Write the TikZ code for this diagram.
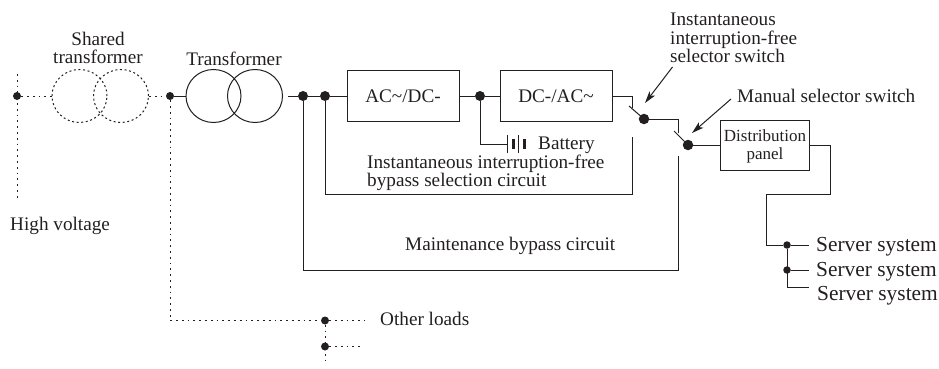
\documentclass[tikz,border=0pt]{standalone}
\usepackage{fontspec}
\setmainfont{Liberation Serif}
\definecolor{ink}{HTML}{231F20}
\tikzset{
  dotn/.style={circle,fill=ink,inner sep=0pt,minimum size=#1},
  dotn/.default=8,
  wire/.style={draw=ink,line width=1pt},
  dots/.style={draw=ink,line width=1pt,dash pattern=on 1.8pt off 4pt},
  boxn/.style={draw=ink,line width=1pt,inner sep=0pt,align=center,text=ink},
  txt/.style={text=ink,inner sep=0pt,align=left,font=\fontsize{19.2}{18.5}\selectfont},
  ring/.style={draw=ink,line width=1pt,ellipse,minimum width=55pt,minimum height=53pt,inner sep=0pt},
  ringd/.style={ring,dash pattern=on 2pt off 2.6pt},
  lead/.style={draw=ink,line width=1pt,-{Stealth[length=12pt,width=7pt,inset=3pt]}}
}
\usetikzlibrary{arrows.meta,shapes.geometric}
\begin{document}
\begin{tikzpicture}[x=1pt,y=-1pt]
\useasboundingbox (0,0) rectangle (939,369);
% nodes
\node[dotn] (hv) at (17,96) {};
\coordinate (hvt) at (17,74);
\coordinate (hvb) at (17,200);
\node[ringd] (s1) at (79.5,96) {};
\node[ringd] (s2) at (121,96) {};
\node[dotn] (j1) at (170,96) {};
\coordinate (j1a) at (153,96);
\node[ring] (t1) at (213.5,96) {};
\node[ring] (t2) at (255,96) {};
\coordinate (t2o) at (288,96);
\node[dotn=10] (d1) at (303,96) {};
\node[dotn=10] (d2) at (325,96) {};
\node[boxn,minimum width=112pt,minimum height=51pt] (ac) at (403,96) {\fontsize{19.2}{20}\selectfont AC\char`\~/DC-};
\node[dotn=10] (d3) at (480,96) {};
\node[boxn,minimum width=112pt,minimum height=51pt] (dc) at (556,96) {\fontsize{19.2}{20}\selectfont DC-/AC\char`\~};
\coordinate (b0) at (507.5,144);
\coordinate (sa0) at (632.5,96);
\coordinate (sa1) at (632.5,108);
\coordinate (sa2) at (629,106);
\node[dotn=10.5] (sa) at (644,119) {};
\coordinate (sb0) at (678,119);
\coordinate (sb1) at (678,133);
\coordinate (sb2) at (674,131);
\node[dotn=10.5] (sb) at (688,145) {};
\coordinate (by1) at (632.5,137);
\coordinate (by2) at (678,156);
\node[boxn,minimum width=89pt,minimum height=50pt] (dp) at (764.5,145) {};
\node[text=ink,inner sep=0pt,align=center,font=\fontsize{17}{18}\selectfont] (dpl) at (765,146.5) {Distribution\\panel};
\node[dotn=7.5] (e1) at (787,245) {};
\node[dotn=7.5] (e2) at (787,270) {};
\coordinate (e3) at (787,287);
\coordinate (o1) at (809,245);
\coordinate (o2) at (809,270);
\coordinate (o3) at (809,287);
\node[dotn] (l1) at (325,320.5) {};
\node[dotn] (l2) at (325,346.5) {};
\coordinate (l1e) at (365,320.5);
\coordinate (l2e) at (363,346.5);
\coordinate (l2b) at (325,365);
% dotted connectors
\draw[dots] (hvt) -- (hvb);
\draw[dots] (hv) -- (s1);
\draw[dots] (s2) -- (j1a) -- (j1);
\draw[dots] (j1) |- (l1);
\draw[dots] (l1) -- (l1e);
\draw[dots] (l1) -- (l2b);
\draw[dots] (l2) -- (l2e);
% solid connectors
\draw[wire] (j1) -- (t1);
\draw[wire] (t2o) -- (d1) -- (d2) -- (ac);
\draw[wire] (ac) -- (d3) -- (dc);
\draw[wire] (d3) |- (b0);
\draw[wire] (dc.east) -- (sa0) -- (sa1);
\draw[wire] (sa2) -- (sa);
\draw[wire] (sa) -- (sb0) -- (sb1);
\draw[wire] (sb2) -- (sb);
\draw[wire] (sb) -- (dp);
\draw[wire] (d2) |- (632.5,194) -- (by1);
\draw[wire] (d1) |- (678,270) -- (by2);
\draw[wire] (dp.east) -- (830.5,145) -- (830.5,194) -- (766,194) -- (766,245) -- (e1) -- (o1);
\draw[wire] (e1) -- (e3) -- (o3);
\draw[wire] (e2) -- (o2);
% battery
\draw[wire] (507.5,135) -- (507.5,153);
\draw[draw=ink,line width=3pt] (513,139) -- (513,149);
\draw[wire] (518,135) -- (518,153);
\draw[draw=ink,line width=3pt] (524,139) -- (524,149);
% labels
\node[txt,align=center] (lshared) at (98,48) {Shared\\transformer};
\node[txt] (ltr) at (234,58.5) {Transformer};
\node[txt,anchor=west] (lhv) at (10,225.5) {High voltage};
\node[txt,anchor=west] (lbat) at (538,145) {Battery};
\node[txt,anchor=west] (lby) at (367,173) {Instantaneous interruption-free\\bypass selection circuit};
\node[txt,anchor=west] (lm) at (405,245.5) {Maintenance bypass circuit};
\node[txt,anchor=west] (lo) at (380,319) {Other loads};
\node[txt,anchor=west] (li) at (670,38) {Instantaneous\\interruption-free\\selector switch};
\node[txt,anchor=west] (lms) at (737,96) {Manual selector switch};
\node[txt,anchor=west,font=\fontsize{21.4}{20}\selectfont] (ls1) at (816,247) {Server system};
\node[txt,anchor=west,font=\fontsize{21.4}{20}\selectfont] (ls2) at (816,272) {Server system};
\node[txt,anchor=west,font=\fontsize{21.4}{20}\selectfont] (ls3) at (817,295.5) {Server system};
% leaders
\coordinate (ai) at (672.5,67);
\coordinate (am) at (731,99);
\draw[lead] (ai) -- (645,103);
\draw[lead] (am) -- (692,133);
\end{tikzpicture}
\end{document}
